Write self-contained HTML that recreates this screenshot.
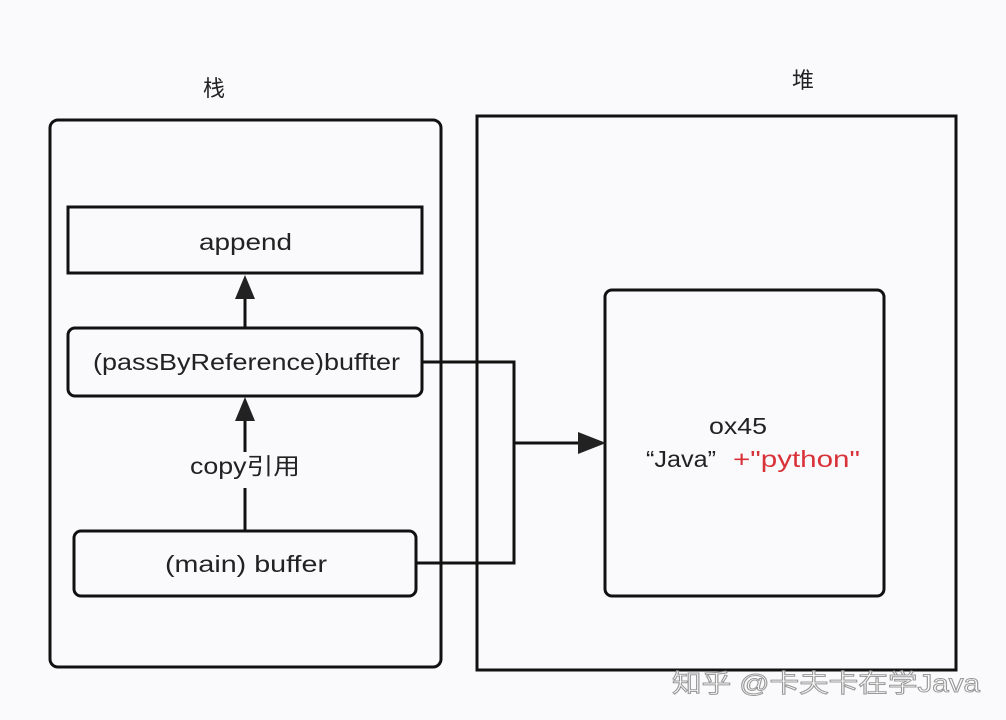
<!DOCTYPE html>
<html><head><meta charset="utf-8"><style>
html,body{margin:0;padding:0;background:#fafafc;}
svg{display:block;}
text{font-family:"Liberation Sans","Noto Sans CJK SC",sans-serif;fill:#222;}
</style></head><body>
<svg width="1006" height="720" viewBox="0 0 1006 720" xmlns="http://www.w3.org/2000/svg">
<rect x="0" y="0" width="1006" height="720" fill="#fafafc"/>
<g fill="none" stroke="#111" stroke-width="3">
<rect x="50" y="120" width="391" height="547" rx="8"/>
<rect x="477" y="116" width="479" height="554"/>
<rect x="68" y="207" width="354" height="66"/>
<rect x="68" y="328" width="354" height="68" rx="7"/>
<rect x="74" y="531" width="342" height="65" rx="7"/>
<rect x="605" y="290" width="279" height="306" rx="7"/>
<polyline points="422,362 514,362 514,563 416,563"/>
<line x1="514" y1="443" x2="580" y2="443"/>
<line x1="245" y1="328" x2="245" y2="296"/>
<line x1="245" y1="531" x2="245" y2="488"/>
<line x1="245" y1="452" x2="245" y2="418"/>
</g>
<g fill="#222">
<polygon points="245,275 235,299 255,299"/>
<polygon points="245,397 235,421 255,421"/>
<polygon points="606,443 578,432 578,454"/>
</g>
<text x="203" y="96" font-size="22" textLength="24">栈</text>
<text x="792" y="88" font-size="22" textLength="24">堆</text>
<text x="199" y="250" font-size="23" textLength="93" lengthAdjust="spacingAndGlyphs">append</text>
<text x="93" y="370" font-size="23" textLength="307" lengthAdjust="spacingAndGlyphs">(passByReference)buffter</text>
<text x="190" y="474" font-size="23" textLength="110" lengthAdjust="spacingAndGlyphs">copy引用</text>
<text x="165" y="572" font-size="23" textLength="162" lengthAdjust="spacingAndGlyphs">(main) buffer</text>
<text x="709" y="434" font-size="23" textLength="58" lengthAdjust="spacingAndGlyphs">ox45</text>
<text x="646" y="467" font-size="23" textLength="70" lengthAdjust="spacingAndGlyphs">“Java”</text>
<text x="733" y="467" font-size="23" textLength="127" lengthAdjust="spacingAndGlyphs" style="fill:#d9333a">+"python"</text>
<text x="672" y="692" font-size="25" textLength="308" lengthAdjust="spacingAndGlyphs" style="fill:#fff;stroke:#999;stroke-width:1">知乎 @卡夫卡在学Java</text>
</svg>
</body></html>
